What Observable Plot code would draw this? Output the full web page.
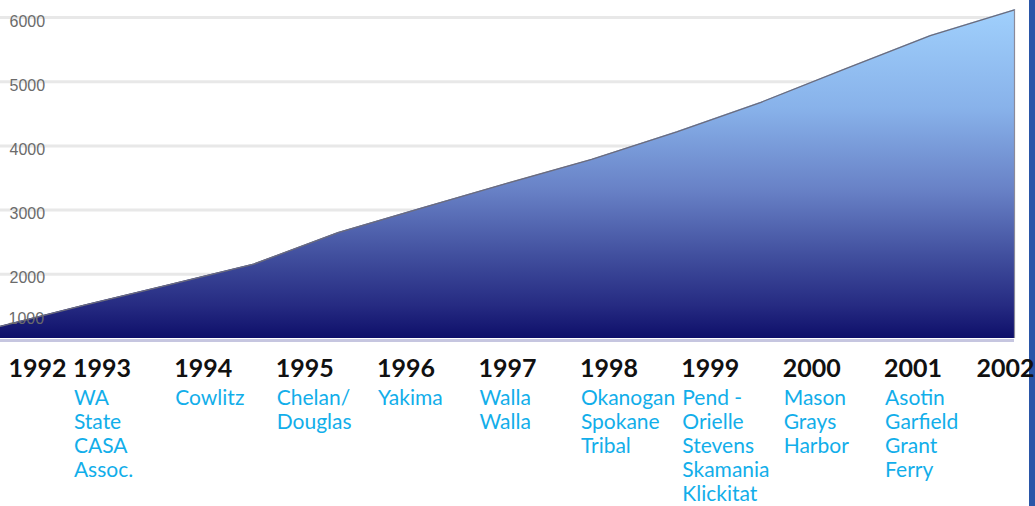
<!DOCTYPE html>
<html><head><meta charset="utf-8">
<script src="https://cdn.jsdelivr.net/npm/d3@7"></script>
<script src="https://cdn.jsdelivr.net/npm/@observablehq/plot@0.6"></script>
<style>
html,body{margin:0;padding:0;background:#fff;}
#wrap{position:relative;width:1035px;height:506px;overflow:hidden;background:#fff;}
#bar{position:absolute;left:1029px;top:0;width:6px;height:506px;background:#2a56a8;}
#chart{position:absolute;left:0;top:0;}
</style></head><body>
<div id="wrap"><div id="bar"></div><div id="chart"></div></div>
<script>
// Data
const dates = [1992, 1992.83, 1993.67, 1994.5, 1995.33, 1996.17, 1997, 1997.83, 1998.67, 1999.5, 2000.33, 2001.17, 2002];
const counts = [1190, 1520, 1840, 2160, 2650, 3040, 3420, 3790, 4220, 4680, 5200, 5720, 6120];
const years = [1992, 1993, 1994, 1995, 1996, 1997, 1998, 1999, 2000, 2001, 2002];
const counties = [
  [],
  ["WA", "State", "CASA", "Assoc."],
  ["Cowlitz"],
  ["Chelan/", "Douglas"],
  ["Yakima"],
  ["Walla", "Walla"],
  ["Okanogan", "Spokane", "Tribal"],
  ["Pend -", "Orielle", "Stevens", "Skamania", "Klickitat"],
  ["Mason", "Grays", "Harbor"],
  ["Asotin", "Garfield", "Grant", "Ferry"],
  []
];
const yTicks = [1000, 2000, 3000, 4000, 5000, 6000];

const series = dates.map((d, i) => ({date: d, count: counts[i]}));
const labels = years.map((y, i) => ({year: y, text: counties[i].join("\n")})).filter(d => d.text);

const gradient = () => {
  const defs = d3.create("svg:defs");
  const g = defs.append("linearGradient").attr("id", "areaGrad")
    .attr("x1", 0).attr("x2", 0).attr("y1", 0).attr("y2", 1);
  [["0%", "#a0d0fc"], ["30%", "#88b2ea"], ["55%", "#6881c6"], ["75%", "#414f9e"], ["90%", "#262b82"], ["100%", "#0e0f6a"]]
    .forEach(([o, c]) => g.append("stop").attr("offset", o).attr("stop-color", c));
  return defs.node();
};

const tickFont = {fontSize: 16, fill: "#6b6b6b", fontFamily: "Liberation Sans, Arial, sans-serif", frameAnchor: "left", textAnchor: "start"};
const yearFont = {frameAnchor: "bottom", lineAnchor: "top", dy: 21, fontSize: 25, fontWeight: 700, fontFamily: "Lato, sans-serif", fill: "#111"};

const chart = Plot.plot({
  width: 1035, height: 506,
  marginLeft: 0, marginRight: 21, marginTop: 1, marginBottom: 168,
  x: {domain: [1992, 2002], axis: null},
  y: {domain: [1000, 6250], axis: null},
  style: {background: "transparent", overflow: "visible"},
  marks: [
    gradient,
    Plot.ruleY(yTicks.slice(1), {stroke: "#e8e8e8", strokeWidth: 3}),
    Plot.ruleY([yTicks[0]], {stroke: "#c6c6e0", strokeWidth: 3, dy: 2}),
    Plot.areaY(series, {x: "date", y1: yTicks[0], y2: "count", fill: "url(#areaGrad)"}),
    Plot.lineY(series, {x: "date", y: "count", stroke: "#6c6c7c", strokeWidth: 1.3}),
    Plot.ruleX(series.slice(-1), {x: "date", y1: yTicks[0], y2: "count", stroke: "#8a8a9a", strokeWidth: 1.2}),
    Plot.text(yTicks.slice(1), {...tickFont, y: d => d, text: d => String(d), dx: 9, dy: 4}),
    Plot.text(yTicks.slice(0, 1), {...tickFont, y: d => d, text: d => String(d), dx: 8, dy: -20}),
    Plot.text(years.slice(0, 1), {...yearFont, x: d => d, text: d => String(d), textAnchor: "start", dx: 8}),
    Plot.text(years.slice(1, -1), {...yearFont, x: d => d, text: d => String(d), textAnchor: "middle"}),
    Plot.text(years.slice(-1), {...yearFont, x: d => d, text: d => String(d), textAnchor: "end", dx: 20}),
    Plot.text(labels, {x: "year", text: "text", frameAnchor: "bottom", lineAnchor: "top", textAnchor: "start", dx: -28, dy: 49, fontSize: 21, lineHeight: 1.15, fill: "#12aeea", fontFamily: "Lato, sans-serif"})
  ]
});
document.getElementById("chart").appendChild(chart);
</script>
</body></html>
